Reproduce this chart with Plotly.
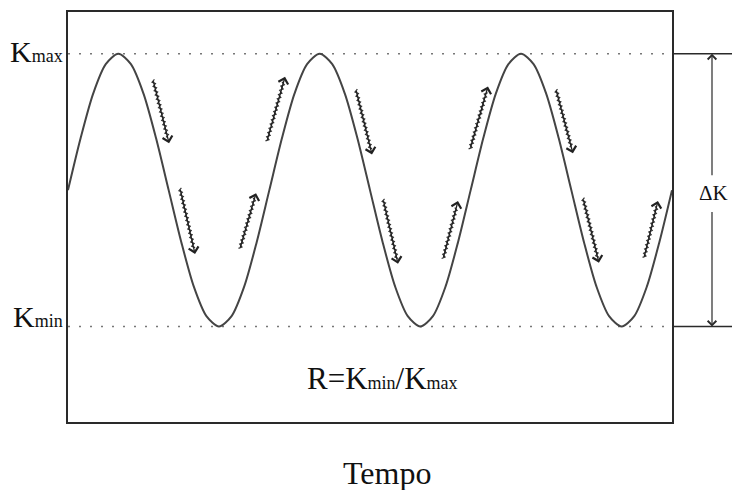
import plotly.graph_objects as go

# ---- data ----
K_MAX = 1.0
K_MIN = 0.0
wave_t = [i / 16 for i in range(49)]            # time, in cycles
one_cycle = [0.5, 0.69, 0.854, 0.962, 1.0, 0.962, 0.854, 0.69,
             0.5, 0.31, 0.146, 0.038, 0.0, 0.038, 0.146, 0.31]
wave_k = one_cycle * 3 + [0.5]

down_t0 = [0.422, 0.556, 1.430, 1.565, 2.424, 2.558]
down_k0 = [0.905, 0.507, 0.869, 0.467, 0.869, 0.471]
down_t1 = [0.502, 0.631, 1.510, 1.639, 2.508, 2.637]
down_k1 = [0.672, 0.266, 0.631, 0.230, 0.635, 0.234]

up_t0 = [0.854, 0.988, 1.863, 1.997, 2.861]
up_k0 = [0.285, 0.679, 0.248, 0.650, 0.252]
up_t1 = [0.934, 1.078, 1.937, 2.086, 2.930]
up_k1 = [0.489, 0.916, 0.460, 0.880, 0.460]

# ---- layout geometry (page has an 8px body margin) ----
W, H = 740, 490
OFF = 8
ML, MR, MT, MB = 68 - OFF, 68 + OFF, 10 - OFF, 68 + OFF
T_RANGE = [0, 3.0]
K_RANGE = [-0.3504, 1.1533]
PW, PH = W - ML - MR, H - MT - MB
SX = PW / (T_RANGE[1] - T_RANGE[0])
SY = PH / (K_RANGE[1] - K_RANGE[0])

FONT = "Liberation Serif, Times New Roman, serif"
INK = "#2a2a2a"

fig = go.Figure()

# reference levels (dotted)
for k in (K_MAX, K_MIN):
    fig.add_trace(go.Scatter(x=[T_RANGE[0], T_RANGE[1]], y=[k, k], mode="lines",
                             line=dict(color="#777", width=1.5, dash="2px,9px"),
                             hoverinfo="skip", showlegend=False))

# the load wave
fig.add_trace(go.Scatter(x=wave_t, y=wave_k, mode="lines",
                         line=dict(color="#444", width=2, shape="spline", smoothing=0.8),
                         hoverinfo="skip", showlegend=False))

# wavy arrows
def squiggle(t0, k0, t1, k1, amp=1.5, step=2.2, head=5.0):
    X0, Y0, X1, Y1 = t0 * SX, k0 * SY, t1 * SX, k1 * SY
    L = ((X1 - X0) ** 2 + (Y1 - Y0) ** 2) ** 0.5
    dx, dy = (X1 - X0) / L, (Y1 - Y0) / L
    nx, ny = -dy, dx
    xs, ys = [], []
    s, i = 0.0, 0
    while s <= L - head:
        o = amp if i % 2 == 0 else -amp
        xs.append((X0 + dx * s + nx * o) / SX)
        ys.append((Y0 + dy * s + ny * o) / SY)
        s += step
        i += 1
    return xs, ys

sx_all, sy_all = [], []
arrows = list(zip(down_t0, down_k0, down_t1, down_k1)) + list(zip(up_t0, up_k0, up_t1, up_k1))
for t0, k0, t1, k1 in arrows:
    xs, ys = squiggle(t0, k0, t1, k1)
    sx_all += xs + [None]
    sy_all += ys + [None]
    fig.add_annotation(x=t1, y=k1, ax=t0, ay=k0, xref="x", yref="y", axref="x", ayref="y",
                       text="", showarrow=True, arrowhead=4, arrowsize=1.5, arrowwidth=1.3,
                       arrowcolor="#222")
fig.add_trace(go.Scatter(x=sx_all, y=sy_all, mode="lines",
                         line=dict(color="#333", width=1.2),
                         hoverinfo="skip", showlegend=False))

# right-hand extension lines
for k in (K_MAX, K_MIN):
    fig.add_shape(type="line", xref="paper", yref="y", x0=1.0, x1=1.3, y0=k, y1=k,
                  line=dict(color=INK, width=1.5))

# delta K double arrow
xdk = (712 - 68) / PW
fig.add_annotation(x=xdk, y=K_MAX, xref="paper", yref="y", ax=0, ay=123,
                   text="", showarrow=True, arrowhead=4, arrowsize=1.4, arrowwidth=1.2,
                   arrowcolor=INK)
fig.add_annotation(x=xdk, y=K_MIN, xref="paper", yref="y", ax=0, ay=-116,
                   text="", showarrow=True, arrowhead=4, arrowsize=1.4, arrowwidth=1.2,
                   arrowcolor=INK)
fig.add_annotation(x=xdk, y=0.489, xref="paper", yref="y", xanchor="center", yanchor="middle",
                   text="ΔK", showarrow=False, xshift=2,
                   font=dict(family=FONT, size=21, color="#111"))

SMALL = "<span style='font-size:18px'>{}</span>"
fig.add_annotation(x=-3 / PW, y=K_MAX, xref="paper", yref="y", xanchor="right", yanchor="middle",
                   text="K" + SMALL.format("max"), showarrow=False, yshift=2,
                   font=dict(family=FONT, size=30, color="#111"))
fig.add_annotation(x=-3 / PW, y=K_MIN, xref="paper", yref="y", xanchor="right", yanchor="middle",
                   text="K" + SMALL.format("min"), showarrow=False, yshift=10,
                   font=dict(family=FONT, size=30, color="#111"))
fig.add_annotation(x=1.56, y=-0.19, xref="x", yref="y", xanchor="center", yanchor="middle",
                   text="R=K" + SMALL.format("min") + "/K" + SMALL.format("max"), showarrow=False,
                   font=dict(family=FONT, size=31, color="#111"))
fig.add_annotation(x=(387 - 68) / PW, y=(422 - 473) / PH,
                   xref="paper", yref="paper", xanchor="center", yanchor="middle",
                   text="Tempo", showarrow=False,
                   font=dict(family=FONT, size=32, color="#111"))

axis = dict(showgrid=False, zeroline=False, showticklabels=False, ticks="",
            showline=True, mirror=True, linecolor=INK, linewidth=1.5)
fig.update_layout(
    width=W, height=H,
    margin=dict(l=ML, r=MR, t=MT, b=MB),
    paper_bgcolor="white", plot_bgcolor="white",
    xaxis=dict(range=T_RANGE, **axis),
    yaxis=dict(range=K_RANGE, **axis),
    showlegend=False,
)

fig.write_html("out.html")
